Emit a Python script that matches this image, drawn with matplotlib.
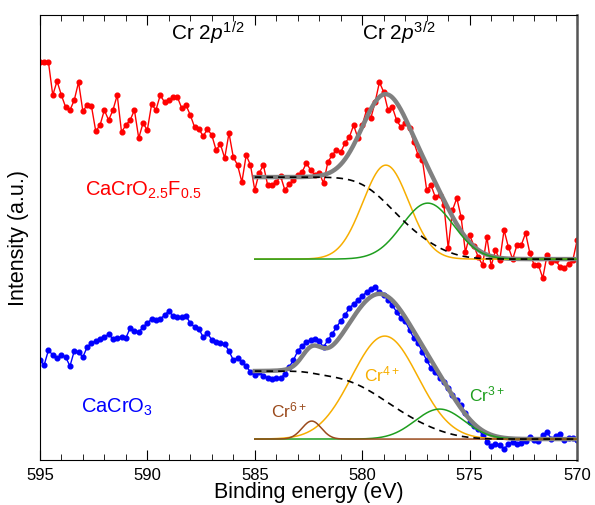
import matplotlib.pyplot as plt
import numpy as np

plt.rcParams['font.family'] = ['Liberation Sans', 'DejaVu Sans']
plt.rcParams['mathtext.fontset'] = 'custom'
plt.rcParams['mathtext.rm'] = 'Liberation Sans'
plt.rcParams['mathtext.it'] = 'Liberation Sans:italic'

# energia de enlace (eV), barrido de 595 a 570 cada 0.2 eV
E = np.arange(595.0, 569.9, -0.2)

# CaCrO2.5F0.5 (rojo), intensidad en unidades arbitrarias
I_F = [398, 398, 398, 365, 379, 365, 353, 350, 360, 378,
       349, 355, 354, 329, 335, 350, 340, 350, 365, 328,
       335, 340, 350, 322, 337, 330, 356, 350, 365, 358,
       360, 363, 363, 352, 355, 345, 333, 331, 324, 331,
       325, 310, 316, 302, 327, 303, 295, 278, 305, 295,
       270, 287, 295, 275, 275, 278, 284, 270, 276, 280,
       285, 288, 297, 290, 285, 287, 277, 298, 305, 310,
       308, 317, 323, 335, 322, 335, 350, 342, 358, 378,
       368, 350, 353, 340, 333, 337, 332, 318, 305, 300,
       270, 275, 263, 265, 255, 212, 250, 262, 243, 208,
       225, 214, 203, 195, 223, 194, 210, 200, 230, 213,
       201, 215, 215, 227, 207, 195, 195, 182, 205, 198,
       200, 193, 192, 196, 200, 220]

# CaCrO3 (azul)
I_O = [100, 95, 110, 105, 102, 105, 103, 94, 109, 108,
       103, 113, 117, 119, 121, 123, 126, 121, 122, 123,
       122, 132, 129, 128, 133, 137, 141, 140, 141, 145,
       149, 144, 143, 143, 144, 137, 133, 131, 123, 127,
       120, 118, 117, 116, 109, 100, 102, 98, 94, 88,
       85, 88, 84, 82, 81, 82, 82, 86, 93, 100,
       109, 114, 118, 120, 121, 119, 113, 120, 126, 133,
       139, 145, 152, 156, 160, 164, 168, 171, 173, 168,
       165, 160, 155, 148, 142, 139, 130, 122, 117, 108,
       100, 92, 88, 82, 78, 72, 65, 60, 55, 47,
       38, 34, 31, 25, 18, 14, 16, 15, 11, 16,
       18, 16, 17, 19, 23, 20, 19, 25, 28, 21,
       24, 26, 20, 22, 22, 20]

# parametros del ajuste: (centro eV, amplitud, sigma eV)
F_base, F_step = 201, 82
F_Cr4 = (578.9, 94, 1.07)
F_Cr3 = (576.95, 56, 1.2)

O_base, O_step = 21, 68
O_Cr4 = (578.95, 103, 1.54)
O_Cr3 = (576.4, 30, 1.15)
O_Cr6 = (582.35, 18, 0.45)

Efit = np.linspace(585, 570, 500)


def gauss(x, p):
    c, a, s = p
    return a*np.exp(-0.5*((x - c)/s)**2)


def shirley(x, peaks, base, step):
    # fondo tipo Shirley: proporcional al area acumulada desde el lado de baja energia
    tot = sum(gauss(x, p) for p in peaks)
    acc = np.cumsum(tot[::-1])[::-1]
    return base + step*acc/acc[0]


fig = plt.figure(figsize=(5.95, 5.05), dpi=100)
ax = fig.add_axes([0.067, 0.089, 0.903, 0.881])

orange = '#F7AE00'
green = '#1E9E1E'
brown = '#9A4A1C'

# datos
ax.plot(E, I_F, '-o', color='#FF0000', ms=3.4, lw=1.0, zorder=2)
ax.plot(E, I_O, '-o', color='#0000FF', ms=3.4, lw=1.0, zorder=2)

# ajuste rojo
bgF = shirley(Efit, [F_Cr4, F_Cr3], F_base, F_step)
ax.plot(Efit, bgF + gauss(Efit, F_Cr4) + gauss(Efit, F_Cr3), color='#808080', lw=3.2, zorder=3)
ax.plot(Efit, F_base + gauss(Efit, F_Cr4), color=orange, lw=1.1, zorder=4)
ax.plot(Efit, F_base + gauss(Efit, F_Cr3), color=green, lw=1.1, zorder=4)
ax.plot(Efit, bgF, '--', color='black', lw=1.2, dashes=(4, 3), zorder=5)

# ajuste azul
bgO = shirley(Efit, [O_Cr4, O_Cr3, O_Cr6], O_base, O_step)
ax.plot(Efit, bgO + gauss(Efit, O_Cr4) + gauss(Efit, O_Cr3) + gauss(Efit, O_Cr6), color='#808080', lw=3.2, zorder=3)
ax.plot(Efit, O_base + gauss(Efit, O_Cr4), color=orange, lw=1.1, zorder=4)
ax.plot(Efit, O_base + gauss(Efit, O_Cr3), color=green, lw=1.1, zorder=4)
ax.plot(Efit, O_base + gauss(Efit, O_Cr6), color=brown, lw=1.1, zorder=4)
ax.plot(Efit, bgO, '--', color='black', lw=1.2, dashes=(4, 3), zorder=5)

# textos
ax.text(587.2, 427, r'Cr 2$\mathit{p}^{1/2}$', fontsize=15, ha='center', va='center')
ax.text(578.3, 427, r'Cr 2$\mathit{p}^{3/2}$', fontsize=15, ha='center', va='center')
ax.text(590.2, 270, r'CaCrO$_{2.5}$F$_{0.5}$', fontsize=14.5, color='#FF0000', ha='center', va='center')
ax.text(593.1, 53, r'CaCrO$_3$', fontsize=14.5, color='#0000FF', ha='left', va='center')
ax.text(583.4, 50, r'Cr$^{6+}$', fontsize=12.5, color=brown, ha='center', va='center')
ax.text(579.1, 86, r'Cr$^{4+}$', fontsize=12.5, color=orange, ha='center', va='center')
ax.text(574.2, 66, r'Cr$^{3+}$', fontsize=12.5, color=green, ha='center', va='center')

ax.set_xlim(595, 570)
ax.set_ylim(0, 445)
ax.set_xticks([595, 590, 585, 580, 575, 570])
ax.set_xticks(np.arange(570, 596, 1), minor=True)
ax.set_yticks([])
ax.tick_params(axis='x', which='both', direction='in', top=True, labelsize=12, pad=6)
ax.tick_params(axis='x', which='major', length=7)
ax.tick_params(axis='x', which='minor', length=4)
ax.spines['right'].set_color('#555555')
ax.spines['right'].set_linewidth(1.8)
ax.set_xlabel('Binding energy (eV)', fontsize=15.5, labelpad=-1)
ax.set_ylabel('Intensity (a.u.)', fontsize=15.5, labelpad=8)

plt.savefig('out.png', dpi=100)
